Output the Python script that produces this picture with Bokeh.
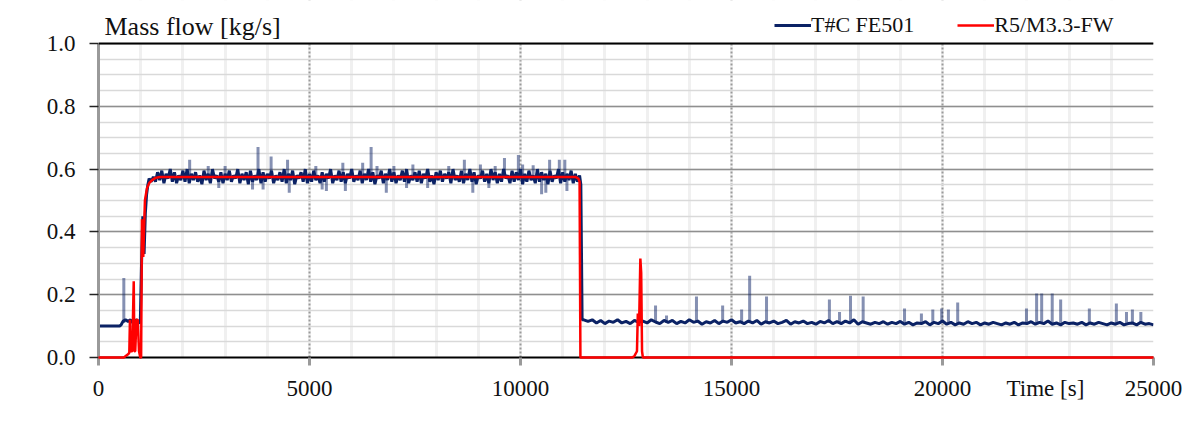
import numpy as np
from bokeh.plotting import figure
from bokeh.models import (Range1d, FixedTicker, PrintfTickFormatter, Legend,
                          LegendItem, Span, Label, BoxAnnotation)
from bokeh.embed import file_html
from bokeh.resources import INLINE

# ---------------- data ----------------
x_ticks = [0, 5000, 10000, 15000, 20000, 25000]
y_ticks = [0.0, 0.2, 0.4, 0.6, 0.8, 1.0]
x_title = "Time [s]"
x_title_pos = 22440
y_title = "Mass flow [kg/s]"
series_names = ["T#C FE501", "R5/M3.3-FW"]

# T#C FE501 - start-up part
nav_head_t = [0, 100, 200, 300, 400, 500, 540, 580, 640, 700, 760, 820, 880, 940, 990,
              1020, 1050, 1080, 1110, 1140, 1170, 1200, 1250]
nav_head_v = [0.10, 0.10, 0.10, 0.10, 0.10, 0.10, 0.105, 0.115, 0.12, 0.115, 0.12, 0.11, 0.12, 0.115, 0.11,
              0.30, 0.45, 0.33, 0.46, 0.52, 0.55, 0.57, 0.56]
# plateau, sampled every 50 s from 1300 s to 11400 s
plat_start, plat_step = 1300, 50
nav_plat_v = [
    0.575, 0.56, 0.59, 0.565, 0.595, 0.555, 0.585, 0.57, 0.6, 0.56, 0.59, 0.555, 0.58, 0.565, 0.595, 0.56, 0.6, 0.555, 0.585, 0.565,
    0.59, 0.56, 0.58, 0.552, 0.595, 0.565, 0.585, 0.555, 0.6, 0.57, 0.58, 0.56, 0.59, 0.555, 0.585, 0.565, 0.595, 0.56, 0.58, 0.57,
    0.6, 0.555, 0.585, 0.565, 0.59, 0.552, 0.595, 0.56, 0.58, 0.565, 0.6, 0.555, 0.59, 0.56, 0.585, 0.57, 0.595, 0.555, 0.58, 0.565,
    0.59, 0.56, 0.6, 0.555, 0.585, 0.565, 0.595, 0.552, 0.58, 0.57, 0.59, 0.56, 0.6, 0.555, 0.585, 0.56, 0.595, 0.565, 0.58, 0.555,
    0.59, 0.56, 0.585, 0.57, 0.6, 0.555, 0.58, 0.565, 0.595, 0.56, 0.59, 0.555, 0.585, 0.57, 0.6, 0.56, 0.58, 0.565, 0.595, 0.555,
    0.585, 0.565, 0.6, 0.56, 0.59, 0.552, 0.58, 0.57, 0.595, 0.555, 0.585, 0.565, 0.6, 0.56, 0.59, 0.555, 0.58, 0.565, 0.595, 0.56,
    0.6, 0.555, 0.58, 0.565, 0.59, 0.56, 0.595, 0.555, 0.585, 0.57, 0.6, 0.56, 0.58, 0.552, 0.59, 0.565, 0.595, 0.56, 0.585, 0.57,
    0.59, 0.555, 0.6, 0.565, 0.58, 0.56, 0.595, 0.555, 0.585, 0.565, 0.6, 0.56, 0.59, 0.552, 0.58, 0.57, 0.595, 0.56, 0.585, 0.555,
    0.6, 0.565, 0.59, 0.555, 0.585, 0.56, 0.6, 0.57, 0.58, 0.555, 0.595, 0.56, 0.59, 0.565, 0.6, 0.552, 0.585, 0.56, 0.595, 0.565,
    0.58, 0.555, 0.6, 0.56, 0.59, 0.565, 0.585, 0.552, 0.595, 0.56, 0.58, 0.57, 0.6, 0.555, 0.59, 0.56, 0.585, 0.565, 0.595, 0.555,
    0.585, 0.56, 0.58]
# drop
nav_drop_t = [11430, 11460]
nav_drop_v = [0.55, 0.12]
# low part, sampled every 100 s from 11500 s to 25000 s
low_start, low_step = 11500, 100
nav_low_v = [
    0.12, 0.115, 0.12, 0.11, 0.118, 0.108, 0.116, 0.112, 0.12, 0.11, 0.115, 0.108, 0.118, 0.112, 0.116, 0.11, 0.12, 0.113, 0.108, 0.118,
    0.112, 0.118, 0.108, 0.115, 0.11, 0.12, 0.112, 0.116, 0.106, 0.114, 0.11, 0.118, 0.108, 0.116, 0.112, 0.12, 0.11, 0.114, 0.108, 0.116,
    0.11, 0.118, 0.106, 0.114, 0.11, 0.116, 0.108, 0.112, 0.118, 0.106, 0.114, 0.11, 0.116, 0.108, 0.112, 0.106, 0.115, 0.11, 0.118, 0.108,
    0.114, 0.108, 0.116, 0.11, 0.12, 0.106, 0.114, 0.11, 0.106, 0.112, 0.108, 0.114, 0.106, 0.112, 0.108, 0.115, 0.106, 0.112, 0.104, 0.11,
    0.108, 0.114, 0.104, 0.112, 0.108, 0.116, 0.106, 0.112, 0.104, 0.11, 0.106, 0.114, 0.108, 0.112, 0.104, 0.11, 0.106, 0.112, 0.108, 0.104,
    0.11, 0.106, 0.112, 0.104, 0.11, 0.108, 0.114, 0.106, 0.112, 0.108, 0.116, 0.106, 0.11, 0.104, 0.112, 0.108, 0.11, 0.106, 0.112, 0.104,
    0.11, 0.106, 0.112, 0.108, 0.104, 0.11, 0.106, 0.112, 0.104, 0.108, 0.11, 0.104, 0.112, 0.106, 0.108, 0.104]

# single-sample spikes of T#C FE501 (time, peak value, level they start from)
spike_t = [600, 2160, 2600, 3000, 3780, 4090, 4480, 5150, 5790, 6260, 6460, 6600, 7000, 7450, 8300, 8670,
           9050, 9400, 9620, 9950, 10050, 10300, 10690, 10920, 11050,
           3650, 3900, 4520, 5300, 5400, 5850, 6820, 7300, 7800, 8870, 9250, 10500, 10600, 11100, 2850,
           13200, 13460, 14170, 14790, 15240, 15430, 15830, 17320, 17560, 17820, 18120, 19100, 19500, 19770,
           19980, 20140, 20360, 21990, 22230, 22350, 22600, 22800, 23480, 24120, 24360, 24500, 24700]
spike_v = [0.253, 0.63, 0.61, 0.61, 0.67, 0.64, 0.63, 0.61, 0.62, 0.62, 0.67, 0.61, 0.61, 0.615, 0.61, 0.63,
           0.615, 0.61, 0.635, 0.645, 0.615, 0.612, 0.63, 0.63, 0.63,
           0.535, 0.535, 0.525, 0.535, 0.53, 0.53, 0.525, 0.54, 0.54, 0.525, 0.54, 0.52, 0.525, 0.53, 0.54,
           0.166, 0.134, 0.194, 0.166, 0.153, 0.26, 0.194, 0.185, 0.145, 0.197, 0.194, 0.156, 0.14, 0.153,
           0.156, 0.153, 0.175, 0.156, 0.204, 0.204, 0.204, 0.185, 0.156, 0.172, 0.145, 0.153, 0.145]
spike_base = [0.11] + [0.575] * 24 + [0.575] * 15 + [0.11] * 27

# R5/M3.3-FW
red_t = [0, 600, 700, 730, 745, 760, 800, 835, 850, 870, 900, 930, 960, 990, 1010, 1030, 1060, 1100, 1150, 1200,
         1270, 1350, 1450, 11300, 11370, 11400, 11420, 12650, 12700, 12760, 12780, 12810, 12840, 12860, 12880, 12900, 25000]
red_v = [0, 0, 0.01, 0.015, 0.12, 0.02, 0.02, 0.243, 0.02, 0.02, 0.12, 0.12, 0.02, 0.0, 0.0, 0.44, 0.32, 0.5, 0.54, 0.555,
         0.565, 0.572, 0.575, 0.575, 0.57, 0.56, 0.0, 0.0, 0.005, 0.02, 0.14, 0.1, 0.315, 0.27, 0.02, 0.0, 0.0]

# ---------------- assemble ----------------
nav_t = np.concatenate([nav_head_t,
                        plat_start + plat_step * np.arange(len(nav_plat_v)),
                        nav_drop_t,
                        low_start + low_step * np.arange(len(nav_low_v))])
nav_v = np.concatenate([nav_head_v, nav_plat_v, nav_drop_v, nav_low_v])

SERIF = "Liberation Serif"
NAVY = "#0b2265"
RED = "#ff0000"
TXT = "#111111"

# the frame also covers the header strip above 1.0 (where title and legend sit)
PX_PER_UNIT = 314
Y_TOP = 357 / PX_PER_UNIT

p = figure(width=1195, height=412, output_backend="svg", toolbar_location=None, title=None,
           x_range=Range1d(0, 25000), y_range=Range1d(0, Y_TOP),
           min_border_left=98, min_border_right=42, min_border_top=0, min_border_bottom=55)
p.outline_line_color = None
p.background_fill_color = "white"

# grids
p.xgrid.ticker = FixedTicker(ticks=x_ticks, minor_ticks=list(range(0, 25001, 1000)))
p.xgrid.grid_line_color = "#9a9a9a"
p.xgrid.grid_line_dash = "2 2"
p.xgrid.grid_line_width = 2
p.xgrid.minor_grid_line_color = "#f0f0f0"
p.xgrid.minor_grid_line_width = 3

p.ygrid.ticker = FixedTicker(ticks=y_ticks, minor_ticks=[i * 0.05 for i in range(21)])
p.ygrid.grid_line_color = "#8f8f8f"
p.ygrid.grid_line_width = 1.5
p.ygrid.minor_grid_line_color = "#d9d9d9"
p.ygrid.minor_grid_line_width = 1.5

# x axis: tick marks drawn as "minor" ticks, the axis title is an extra labelled tick
p.xaxis.ticker = FixedTicker(ticks=x_ticks + [x_title_pos], minor_ticks=x_ticks)
p.xaxis.formatter = PrintfTickFormatter(format="%d")
p.xaxis.major_label_overrides = {x_title_pos: x_title}
p.xaxis.axis_line_color = "black"
p.xaxis.axis_line_width = 2
p.xaxis.major_tick_line_color = None
p.xaxis.minor_tick_line_color = "#9a9a9a"
p.xaxis.minor_tick_line_width = 3
p.xaxis.minor_tick_out = 8
p.xaxis.minor_tick_in = 0
p.xaxis.major_label_standoff = 10
p.xaxis.major_label_text_font = SERIF
p.xaxis.major_label_text_font_size = "23px"
p.xaxis.major_label_text_color = TXT

p.yaxis.ticker = FixedTicker(ticks=y_ticks)
p.yaxis.bounds = (0, 1.0)
p.yaxis.formatter = PrintfTickFormatter(format="%.1f")
p.yaxis.axis_line_color = "#9a9a9a"
p.yaxis.axis_line_width = 3
p.yaxis.major_tick_line_color = "#222222"
p.yaxis.major_tick_line_width = 1.5
p.yaxis.major_tick_out = 9
p.yaxis.major_tick_in = 0
p.yaxis.minor_tick_line_color = None
p.yaxis.major_label_standoff = 14
p.yaxis.major_label_text_font = SERIF
p.yaxis.major_label_text_font_size = "23px"
p.yaxis.major_label_text_color = TXT

# data
p.segment(x0=spike_t, y0=spike_base, x1=spike_t, y1=spike_v, line_color=NAVY, line_alpha=0.5, line_width=3)
r_nav = p.line(nav_t, nav_v, line_color=NAVY, line_width=3)
r_red = p.line(red_t, red_v, line_color=RED, line_width=2.5, level="annotation")

# blank header strip above the value range, and the black top border
p.add_layout(BoxAnnotation(bottom=1.0, fill_color="white", fill_alpha=1.0, line_color=None))
p.add_layout(Span(location=1.0, dimension="width", line_color="black", line_width=2))

# y title in the header strip, above the top border
p.add_layout(Label(x=0, y=1.0 + 17 / PX_PER_UNIT, x_offset=6, text=y_title,
                   text_baseline="alphabetic", text_font=SERIF, text_font_size="26px",
                   text_color=TXT))

legend = Legend(items=[LegendItem(label=series_names[0], renderers=[r_nav]),
                       LegendItem(label=series_names[1], renderers=[r_red])],
                location=(676, 319), orientation="horizontal",
                background_fill_alpha=0, border_line_color=None,
                label_text_font=SERIF, label_text_font_size="22px", label_text_color=TXT,
                glyph_width=37, label_standoff=0, spacing=43, padding=0, margin=0)
p.add_layout(legend)

open("out.html", "w").write(file_html(p, INLINE))
